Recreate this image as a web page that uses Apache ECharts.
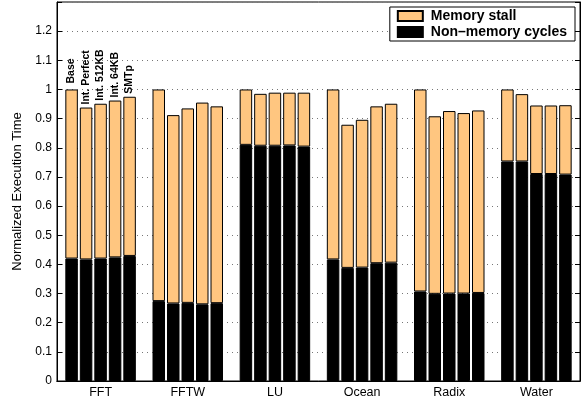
<!DOCTYPE html>
<html>
<head>
<meta charset="utf-8">
<script src="https://cdn.jsdelivr.net/npm/echarts@6/dist/echarts.min.js"></script>
<style>
  html, body { margin: 0; padding: 0; background: #fff; }
  #chart { width: 587px; height: 406px; }
</style>
</head>
<body>
<div id="chart"></div>
<script>
const benchmarks = ["FFT", "FFTW", "LU", "Ocean", "Radix", "Water"];
const configs = ["Base", "Int. Perfect", "Int. 512KB", "Int. 64KB", "SMTp"];
const yTicks = [0, 0.1, 0.2, 0.3, 0.4, 0.5, 0.6, 0.7, 0.8, 0.9, 1, 1.1, 1.2];

// total normalized time, one row per benchmark, one entry per config
const totalTime = [
  [1.0, 0.938, 0.951, 0.962, 0.975],
  [1.0, 0.912, 0.935, 0.955, 0.942],
  [1.0, 0.985, 0.989, 0.989, 0.989],
  [1.0, 0.879, 0.896, 0.942, 0.951],
  [1.0, 0.908, 0.926, 0.919, 0.928],
  [1.0, 0.984, 0.945, 0.945, 0.946],
];
// non-memory part of each bar
const nonMemory = [
  [0.420, 0.417, 0.420, 0.424, 0.429],
  [0.274, 0.266, 0.268, 0.263, 0.267],
  [0.810, 0.807, 0.807, 0.808, 0.804],
  [0.417, 0.388, 0.389, 0.404, 0.406],
  [0.307, 0.299, 0.300, 0.300, 0.302],
  [0.753, 0.753, 0.710, 0.710, 0.708],
];

const FONT = "'Liberation Sans', Arial, Helvetica, sans-serif";
const STALL = "#ffc680";
const chart = echarts.init(document.getElementById("chart"));

const series = [];
configs.forEach((cfg, c) => {
  series.push({
    name: "Non\u2013memory cycles",
    type: "bar",
    stack: "cfg" + c,
    barWidth: 12.5,
    barGap: "16%",
    itemStyle: { color: "#000", borderColor: "#000", borderWidth: 1 },
    data: benchmarks.map((_, b) => nonMemory[b][c]),
  });
  series.push({
    name: "Memory stall",
    type: "bar",
    stack: "cfg" + c,
    barWidth: 12.5,
    barGap: "16%",
    itemStyle: { color: STALL, borderColor: "#000", borderWidth: 1 },
    data: benchmarks.map((_, b) => {
      const v = +(totalTime[b][c] - nonMemory[b][c]).toFixed(3);
      if (b !== 0) return v;
      return {
        value: v,
        label: {
          show: true, position: "top", rotate: 90, align: "left", verticalAlign: "middle",
          distance: c === 0 ? 6 : 3, formatter: cfg, color: "#000", fontFamily: FONT, fontSize: 10.5, fontWeight: "bold",
        },
      };
    }),
  });
});

chart.setOption({
  animation: false,
  textStyle: { fontFamily: FONT },
  grid: { left: 57, right: 7, top: 2, bottom: 25, show: true, borderColor: "#000", borderWidth: 1, backgroundColor: "#fff" },
  legend: {
    data: ["Memory stall", "Non\u2013memory cycles"],
    orient: "vertical",
    right: 12, top: 7,
    backgroundColor: "#fff",
    borderColor: "#000", borderWidth: 1,
    padding: [2, 8, 2, 7],
    itemGap: 2,
    itemWidth: 25, itemHeight: 10,
    icon: "rect",
    textStyle: { fontFamily: FONT, fontSize: 14, fontWeight: "bold", color: "#000", lineHeight: 14, padding: [0, 0, 0, 3] },
    selectedMode: false,
  },
  xAxis: [
    {
      type: "category", data: benchmarks, position: "bottom",
      axisLine: { lineStyle: { color: "#000" } },
      axisTick: { inside: true, alignWithLabel: true, length: 5, lineStyle: { color: "#000" } },
      axisLabel: { color: "#000", fontSize: 12.5, margin: 5, fontFamily: FONT },
    },
    {
      type: "category", data: benchmarks, position: "top",
      axisLine: { lineStyle: { color: "#000" } },
      axisTick: { inside: true, alignWithLabel: true, length: 6, lineStyle: { color: "#000" } },
      axisLabel: { show: false },
    },
  ],
  yAxis: [
    {
      type: "value", min: 0, max: 1.3, interval: 0.1,
      name: "Normalized Execution Time", nameLocation: "middle", nameGap: 31,
      nameTextStyle: { color: "#000", fontSize: 13, fontFamily: FONT },
      axisLine: { show: true, lineStyle: { color: "#000" } },
      axisTick: { show: true, inside: true, length: 5, lineStyle: { color: "#000" } },
      axisLabel: {
        color: "#000", fontSize: 12, margin: 5, fontFamily: FONT,
        formatter: v => {
          const t = yTicks.find(k => Math.abs(k - v) < 1e-6);
          return t === undefined ? "" : String(t);
        },
      },
      splitLine: { show: true, lineStyle: { color: "#777", type: [1, 4], width: 1 } },
    },
    {
      type: "value", min: 0, max: 1.3, interval: 0.1, position: "right",
      axisLine: { show: true, lineStyle: { color: "#000" } },
      axisTick: { show: true, inside: true, length: 5, lineStyle: { color: "#000" } },
      axisLabel: { show: false },
      splitLine: { show: false },
    },
  ],
  series,
});
</script>
</body>
</html>
